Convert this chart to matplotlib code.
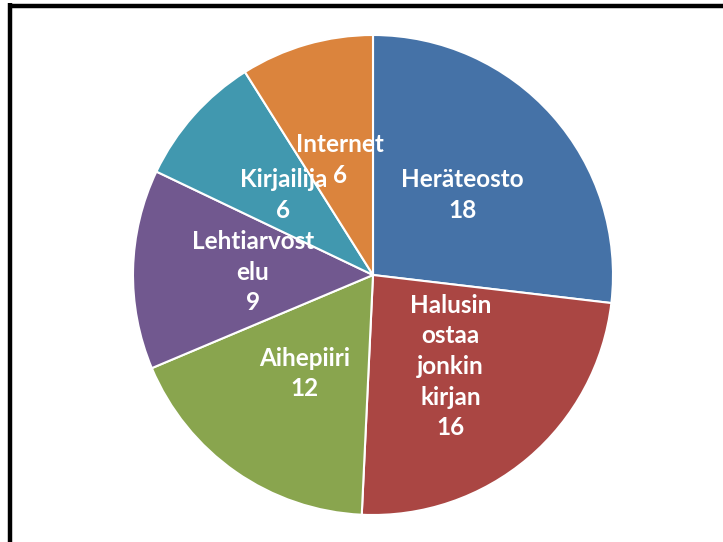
import matplotlib.pyplot as plt
import numpy as np
from matplotlib.lines import Line2D

# data
labels = ['Heräteosto', 'Halusin\nostaa\njonkin\nkirjan', 'Aihepiiri',
          'Lehtiarvost\nelu', 'Kirjailija', 'Internet']
values = [18, 16, 12, 9, 6, 6]
colors = ['#4572A7', '#AA4643', '#89A54E', '#71588F', '#4198AF', '#DB843D']

W, H = 723, 542
fig = plt.figure(figsize=(W / 100, H / 100), dpi=100)

# pie axes placed so the circle sits where it does in the reference
cx, cy, r = 373, 275, 240
ax = fig.add_axes([(cx - r) / W, (H - cy - r) / H, 2 * r / W, 2 * r / H])
wedges, _ = ax.pie(values, colors=colors, startangle=90, counterclock=False,
                   radius=1, wedgeprops=dict(edgecolor='white', linewidth=1.5))
ax.set_xlim(-1, 1)
ax.set_ylim(-1, 1)
ax.set_aspect('equal')
ax.axis('off')

# labels in the middle of each slice
for w, lab, v in zip(wedges, labels, values):
    ang = np.deg2rad((w.theta1 + w.theta2) / 2)
    ax.text(0.5 * np.cos(ang), 0.5 * np.sin(ang), f'{lab}\n{v}',
            ha='center', va='center', color='white', fontsize=17.5,
            fontweight='bold', family=['Lato', 'DejaVu Sans'], linespacing=1.4)

# thick black frame, only left and top edges visible in the crop
fig.add_artist(Line2D([9.5 / W, 9.5 / W], [0, 1 - 3 / H], transform=fig.transFigure,
                      color='black', linewidth=3.2, solid_capstyle='butt'))
fig.add_artist(Line2D([8 / W, 1], [1 - 5.5 / H, 1 - 5.5 / H], transform=fig.transFigure,
                      color='black', linewidth=3.2, solid_capstyle='butt'))

fig.savefig('out.png', dpi=100)
